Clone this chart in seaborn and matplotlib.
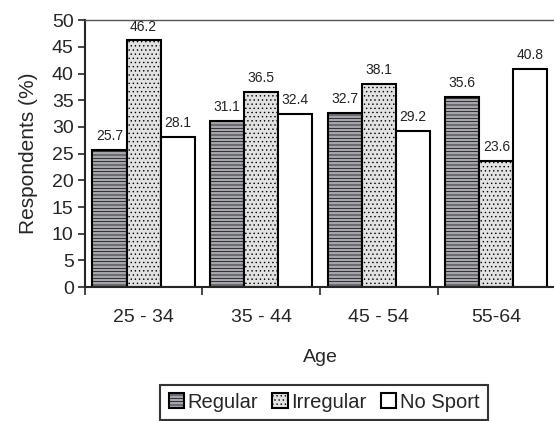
import matplotlib
matplotlib.use("Agg")
import matplotlib.pyplot as plt
import seaborn as sns
import pandas as pd

age_groups = ["25 - 34", "35 - 44", "45 - 54", "55-64"]
series = ["Regular", "Irregular", "No Sport"]
regular = [25.7, 31.1, 32.7, 35.6]
irregular = [46.2, 36.5, 38.1, 23.6]
no_sport = [28.1, 32.4, 29.2, 40.8]

df = pd.DataFrame({
    "Age": age_groups * 3,
    "Group": [s for s in series for _ in age_groups],
    "Respondents": regular + irregular + no_sport,
})

sns.set_style("ticks")
plt.rcParams["font.family"] = ["Liberation Sans", "DejaVu Sans"]
plt.rcParams["hatch.linewidth"] = 0.5

fig = plt.figure(figsize=(5.54, 4.21), dpi=100)
ax = fig.add_axes([0.153, 0.318, 0.849, 0.634])

colors = {"Regular": "#a4a4ad", "Irregular": "#e2e2e2", "No Sport": "#ffffff"}
sns.barplot(data=df, x="Age", y="Respondents", hue="Group",
            palette=colors, width=0.87, edgecolor="black", linewidth=1.5,
            legend=False, ax=ax)

hatches = ["-----", "....", ""]
for container, hatch in zip(ax.containers, hatches):
    for bar in container:
        bar.set_hatch(hatch)
    ax.bar_label(container, fmt="%.1f", padding=5, fontsize=10, color="#222222")

ax.set_ylim(0, 50)
ax.set_xlim(-0.5, 3.5)
ax.set_yticks(range(0, 51, 5))
ax.set_xticks([-0.5, 0.5, 1.5, 2.5], minor=True)
ax.tick_params(axis="x", which="major", length=0, pad=16, labelsize=14)
ax.tick_params(axis="x", which="minor", length=6, width=1.2, direction="out")
ax.tick_params(axis="y", length=5, width=1.2, labelsize=14, pad=3)

for side in ["left", "bottom"]:
    ax.spines[side].set_linewidth(1.5)
ax.spines["top"].set_color("#555555")
ax.spines["top"].set_linewidth(1)
ax.spines["right"].set_visible(False)

ax.set_xlabel("Age", fontsize=14, labelpad=16)
ax.set_ylabel("Respondents (%)", fontsize=15, labelpad=10)

leg = fig.legend(handles=ax.containers, labels=series, loc="upper center",
                 bbox_to_anchor=(0.585, 0.086), borderaxespad=0, ncol=3,
                 fontsize=14.5, frameon=True, fancybox=False, edgecolor="black",
                 handlelength=0.75, handleheight=0.75, handletextpad=0.2,
                 columnspacing=0.7, borderpad=0.4)
leg.get_frame().set_linewidth(1.5)

fig.savefig("out.png", dpi=100)
